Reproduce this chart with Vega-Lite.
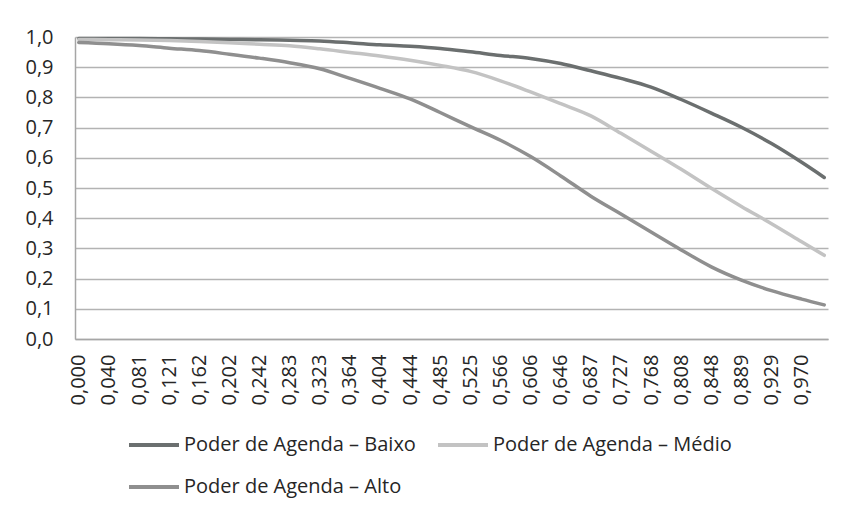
{
  "$schema": "https://vega.github.io/schema/vega-lite/v6.json",
  "width": 753,
  "height": 302,
  "autosize": {"type": "none"},
  "padding": {"left": 75, "top": 37, "right": 16, "bottom": 174},
  "background": "#ffffff",
  "config": {
    "font": "Open Sans",
    "view": {"stroke": null},
    "axis": {"labelFont": "Open Sans", "labelFontSize": 20, "labelColor": "#262626"},
    "legend": {"labelFont": "Open Sans", "labelFontSize": 20, "labelColor": "#262626"}
  },
  "data": {
    "values": [
      {"x": 0, "Baixo": 0.995, "Medio": 0.992, "Alto": 0.982},
      {"x": 0.0404, "Baixo": 0.995, "Medio": 0.991, "Alto": 0.978},
      {"x": 0.0808, "Baixo": 0.995, "Medio": 0.990, "Alto": 0.972},
      {"x": 0.1212, "Baixo": 0.994, "Medio": 0.988, "Alto": 0.963},
      {"x": 0.1616, "Baixo": 0.993, "Medio": 0.985, "Alto": 0.955},
      {"x": 0.2020, "Baixo": 0.992, "Medio": 0.981, "Alto": 0.943},
      {"x": 0.2424, "Baixo": 0.991, "Medio": 0.976, "Alto": 0.930},
      {"x": 0.2828, "Baixo": 0.989, "Medio": 0.971, "Alto": 0.915},
      {"x": 0.3232, "Baixo": 0.987, "Medio": 0.961, "Alto": 0.895},
      {"x": 0.3636, "Baixo": 0.981, "Medio": 0.949, "Alto": 0.863},
      {"x": 0.4040, "Baixo": 0.974, "Medio": 0.937, "Alto": 0.830},
      {"x": 0.4444, "Baixo": 0.969, "Medio": 0.923, "Alto": 0.795},
      {"x": 0.4848, "Baixo": 0.962, "Medio": 0.906, "Alto": 0.750},
      {"x": 0.5253, "Baixo": 0.951, "Medio": 0.886, "Alto": 0.703},
      {"x": 0.5657, "Baixo": 0.939, "Medio": 0.855, "Alto": 0.658},
      {"x": 0.6061, "Baixo": 0.929, "Medio": 0.818, "Alto": 0.604},
      {"x": 0.6465, "Baixo": 0.912, "Medio": 0.779, "Alto": 0.540},
      {"x": 0.6869, "Baixo": 0.888, "Medio": 0.739, "Alto": 0.473},
      {"x": 0.7273, "Baixo": 0.863, "Medio": 0.681, "Alto": 0.414},
      {"x": 0.7677, "Baixo": 0.834, "Medio": 0.622, "Alto": 0.354},
      {"x": 0.8081, "Baixo": 0.793, "Medio": 0.562, "Alto": 0.295},
      {"x": 0.8485, "Baixo": 0.748, "Medio": 0.499, "Alto": 0.239},
      {"x": 0.8889, "Baixo": 0.701, "Medio": 0.439, "Alto": 0.195},
      {"x": 0.9293, "Baixo": 0.647, "Medio": 0.382, "Alto": 0.160},
      {"x": 0.9697, "Baixo": 0.585, "Medio": 0.322, "Alto": 0.132},
      {"x": 1, "Baixo": 0.535, "Medio": 0.277, "Alto": 0.113}
    ]
  },
  "transform": [
    {"fold": ["Baixo", "Medio", "Alto"], "as": ["serie", "v"]},
    {"lookup": "serie", "from": {"data": {"values": [
      {"serie": "Baixo", "nome": "Poder de Agenda – Baixo"},
      {"serie": "Medio", "nome": "Poder de Agenda – Médio"},
      {"serie": "Alto", "nome": "Poder de Agenda – Alto"}
    ]}, "key": "serie", "fields": ["nome"]}}
  ],
  "mark": {"type": "line", "strokeWidth": 3.5, "interpolate": "monotone", "strokeCap": "round"},
  "encoding": {
    "x": {
      "field": "x", "type": "quantitative",
      "scale": {"domain": [-0.00505, 1.00505], "nice": false, "zero": false},
      "axis": {
        "title": null,
        "values": [0, 0.040404, 0.080808, 0.121212, 0.161616, 0.20202, 0.242424, 0.282828, 0.323232, 0.363636, 0.40404, 0.444444, 0.484848, 0.525253, 0.565657, 0.606061, 0.646465, 0.686869, 0.727273, 0.767677, 0.808081, 0.848485, 0.888889, 0.929293, 0.969697],
        "labelExpr": "replace(format(datum.value, '.3f'), '.', ',')",
        "labelAngle": 270, "labelAlign": "right", "labelBaseline": "middle",
        "labelPadding": 15, "ticks": false, "grid": false,
        "domainColor": "#a6a6a6", "domainWidth": 1.5,
        "labelOverlap": false, "labelBound": false, "labelFlush": false
      }
    },
    "y": {
      "field": "v", "type": "quantitative",
      "scale": {"domain": [0, 1], "nice": false},
      "axis": {
        "title": null,
        "values": [0, 0.1, 0.2, 0.3, 0.4, 0.5, 0.6, 0.7, 0.8, 0.9, 1.0],
        "labelExpr": "replace(format(datum.value, '.1f'), '.', ',')",
        "ticks": false, "labelPadding": 22,
        "grid": true, "gridColor": "#b3b3b3", "gridWidth": 1.3,
        "domainColor": "#a6a6a6", "domainWidth": 1.5
      }
    },
    "color": {
      "field": "nome", "type": "nominal",
      "scale": {
        "domain": ["Poder de Agenda – Baixo", "Poder de Agenda – Médio", "Poder de Agenda – Alto"],
        "range": ["#6b6f6f", "#c3c3c3", "#8f8f8f"]
      },
      "legend": {
        "title": null, "orient": "none", "legendX": 52, "legendY": 381,
        "direction": "horizontal", "columns": 2, "columnPadding": 14, "rowPadding": 5,
        "symbolType": "stroke", "symbolSize": 2500, "symbolStrokeWidth": 4,
        "labelOffset": 3, "labelLimit": 400
      }
    }
  }
}
